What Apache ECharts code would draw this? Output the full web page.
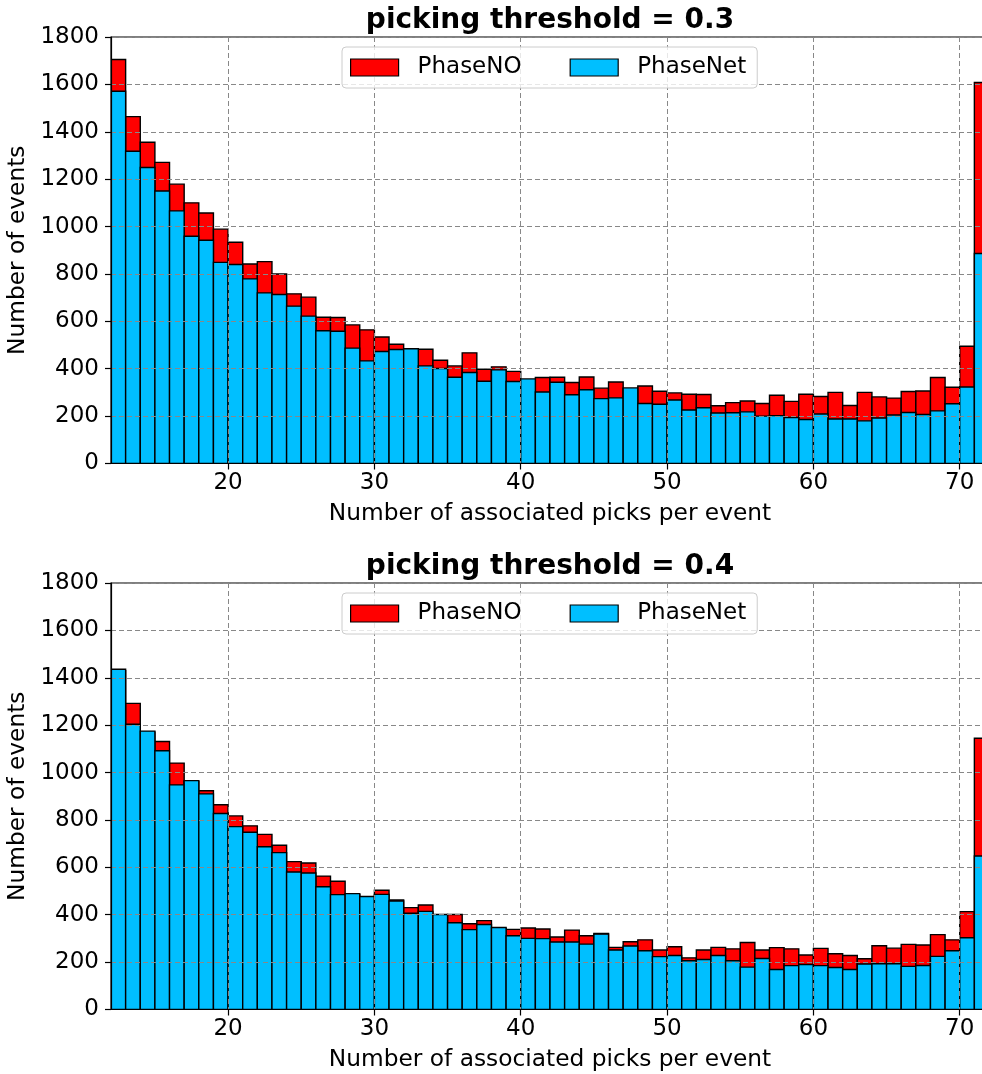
<!DOCTYPE html>
<html>
<head>
<meta charset="utf-8">
<title>Associated picks per event</title>
<script src="https://cdn.jsdelivr.net/npm/echarts@6/dist/echarts.min.js"></script>
<style>
  html, body { margin: 0; padding: 0; overflow: hidden; background: #fff; }
  #chart { width: 990px; height: 1074px; }
</style>
</head>
<body>
<div id="chart"></div>
<script>
// Histogram bins: left edge of each unit-wide bin (number of associated picks)
const binStarts = [12,13,14,15,16,17,18,19,20,21,22,23,24,25,26,27,28,29,30,31,32,33,34,35,36,37,38,39,40,41,
                   42,43,44,45,46,47,48,49,50,51,52,53,54,55,56,57,58,59,60,61,62,63,64,65,66,67,68,69,70,71];
const BIN_WIDTH = 1;

// Event counts, picking threshold = 0.3
const phaseNO_03 = [1705,1464,1356,1271,1179,1100,1057,989,934,842,852,800,716,702,617,616,585,564,534,503,
                    482,482,436,412,467,398,408,389,352,363,364,342,365,318,344,315,327,305,298,292,
                    291,244,257,264,253,288,262,292,283,300,245,300,281,276,304,306,363,322,495,1608];
const phaseNet_03 = [1571,1318,1249,1150,1066,959,942,849,840,779,720,713,664,622,560,558,487,433,473,481,
                     484,412,401,364,384,347,395,346,357,302,343,290,311,274,277,319,253,250,268,226,
                     235,213,214,218,200,202,194,186,209,188,188,180,192,205,215,207,222,252,323,886];

// Event counts, picking threshold = 0.4
const phaseNO_04 = [1430,1292,1170,1131,1040,962,923,864,817,775,739,693,624,618,563,541,485,474,503,462,
                    430,441,398,401,362,375,342,338,344,340,306,335,311,321,262,286,294,251,265,218,
                    251,262,256,283,251,261,256,230,258,235,228,214,269,259,275,272,316,294,413,1145];
const phaseNet_04 = [1436,1204,1175,1092,948,966,910,827,772,748,687,662,580,576,518,485,489,477,486,458,
                     406,414,401,366,337,359,346,311,300,299,285,285,276,318,251,268,248,223,228,206,
                     211,228,206,179,215,169,185,190,185,177,169,192,193,193,182,186,224,248,303,648];

const xTicks = [20, 30, 40, 50, 60, 70];
const titles = ['picking threshold = 0.3', 'picking threshold = 0.4'];
const seriesNames = ['PhaseNO', 'PhaseNet'];
const xName = 'Number of associated picks per event';
const yName = 'Number of events';

const COLORS = { PhaseNO: '#ff0000', PhaseNet: '#00bfff' };
const FONT = 'DejaVu Sans';
const FS = 23;

function pairs(values) {
  return binStarts.map((b, i) => [b, values[i]]);
}

// one histogram bar per bin, edges taken from the axis scales
function renderBin(params, api) {
  const x0 = api.value(0);
  const v = api.value(1);
  const pTop = api.coord([x0, v]);
  const pBot = api.coord([x0 + BIN_WIDTH, 0]);
  return {
    type: 'rect',
    shape: { x: pTop[0], y: pTop[1], width: pBot[0] - pTop[0], height: pBot[1] - pTop[1] },
    style: { fill: api.visual('color'), stroke: '#000', lineWidth: 1.4 }
  };
}

const panels = [
  { top: 37, data: [phaseNO_03, phaseNet_03] },
  { top: 583, data: [phaseNO_04, phaseNet_04] }
];
const GRID_H = 426.5;

const option = {
  animation: false,
  backgroundColor: '#fff',
  textStyle: { fontFamily: FONT },
  title: panels.map((p, i) => ({
    text: titles[i],
    left: 550,
    textAlign: 'center',
    top: p.top - 30,
    padding: 0,
    textStyle: { fontFamily: FONT, fontSize: 28, fontWeight: 'bold', color: '#000' }
  })),
  legend: panels.map((p, i) => ({
    data: seriesNames.map(n => ({ name: n, icon: 'rect',
      itemStyle: { color: COLORS[n], borderColor: '#000', borderWidth: 1.2 } })),
    left: 342,
    top: p.top + 10,
    orient: 'horizontal',
    itemWidth: 48,
    itemHeight: 17,
    itemGap: 48,
    padding: [9, 11, 9, 8],
    backgroundColor: 'rgba(255,255,255,0.8)',
    borderColor: '#cccccc',
    borderWidth: 1,
    borderRadius: 4,
    selectedMode: false,
    textStyle: { fontFamily: FONT, fontSize: FS, color: '#000', padding: [0, 0, 0, 14] }
  })),
  grid: panels.map(p => ({
    left: 111, top: p.top, width: 878, height: GRID_H,
    outerBoundsMode: 'none', containLabel: false,
    show: true, borderColor: '#000', borderWidth: 1.2, backgroundColor: 'transparent'
  })),
  xAxis: panels.map((p, i) => ({
    type: 'value', gridIndex: i, min: 12, max: 72, splitNumber: 5, z: 3,
    name: xName, nameLocation: 'middle', nameGap: 39,
    nameTextStyle: { fontFamily: FONT, fontSize: 23.3, color: '#000' },
    axisLine: { show: true, lineStyle: { color: '#000', width: 1.2 } },
    axisTick: { show: true, length: 6, customValues: xTicks, lineStyle: { color: '#000', width: 1.2 } },
    axisLabel: { customValues: xTicks, margin: 8, fontFamily: FONT, fontSize: FS, color: '#000',
                 formatter: v => String(v) },
    splitLine: { show: true, lineStyle: { color: '#888', type: [5, 3], width: 1 } }
  })),
  yAxis: panels.map((p, i) => ({
    type: 'value', gridIndex: i, min: 0, max: 1800, interval: 200, z: 3,
    name: yName, nameLocation: 'middle', nameGap: 72, nameRotate: 90,
    nameTextStyle: { fontFamily: FONT, fontSize: 23.3, color: '#000' },
    axisLine: { show: true, lineStyle: { color: '#000', width: 1.2 } },
    axisTick: { show: true, length: 6, lineStyle: { color: '#000', width: 1.2 } },
    axisLabel: { margin: 12, fontFamily: FONT, fontSize: FS, color: '#000',
                 formatter: v => String(v) },
    splitLine: { show: true, lineStyle: { color: '#888', type: [5, 3], width: 1 } }
  })),
  series: []
};

panels.forEach((p, i) => {
  seriesNames.forEach((name, k) => {
    option.series.push({
      type: 'custom',
      name: name,
      xAxisIndex: i,
      yAxisIndex: i,
      z: 2,
      clip: true,
      itemStyle: { color: COLORS[name], borderColor: '#000', borderWidth: 1.2 },
      encode: { x: 0, y: 1 },
      data: pairs(p.data[k]),
      renderItem: renderBin
    });
  });
});

const chart = echarts.init(document.getElementById('chart'), null, { renderer: 'canvas' });
chart.setOption(option);
</script>
</body>
</html>
